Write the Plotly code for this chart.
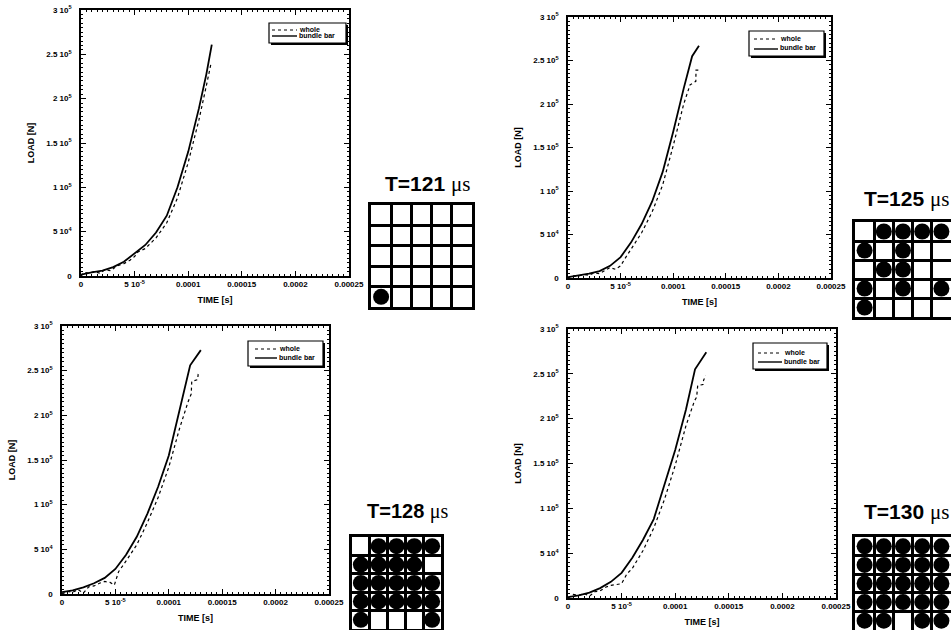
import plotly.graph_objects as go

# ---------------- data ----------------
x_tickvals = [0, 5e-5, 1e-4, 1.5e-4, 2e-4, 2.5e-4]
x_ticktext = ["0", "5 10<sup>-5</sup>", "0.0001", "0.00015", "0.0002", "0.00025"]
y_tickvals = [0, 5e4, 1e5, 1.5e5, 2e5, 2.5e5, 3e5]
y_ticktext = ["0", "5 10<sup>4</sup>", "1 10<sup>5</sup>", "1.5 10<sup>5</sup>",
              "2 10<sup>5</sup>", "2.5 10<sup>5</sup>", "3 10<sup>5</sup>"]
series_names = ["whole", "bundle bar"]
snapshot_labels = ["T=121", "T=125", "T=128", "T=130"]

# T=121 us
t121_bundle = [0, 0.5e-5, 1e-5, 2e-5, 3e-5, 4e-5, 5e-5, 6e-5, 7e-5, 8e-5, 9e-5, 1e-4, 1.1e-4, 1.17e-4, 1.22e-4]
l121_bundle = [1.5e3, 3e3, 4e3, 6e3, 10e3, 16e3, 25e3, 35e3, 49e3, 68e3, 100e3, 140e3, 189e3, 228e3, 261e3]
t121_whole = [0, 0.3e-5, 0.8e-5, 1.2e-5, 1.8e-5, 2.2e-5, 2.8e-5, 3.3e-5, 4e-5, 4.6e-5, 5e-5, 5.3e-5,
              6e-5, 7e-5, 8e-5, 9e-5, 1e-4, 1.1e-4, 1.17e-4, 1.21e-4]
l121_whole = [0, 4e3, 3e3, 5e3, 3e3, 7e3, 6e3, 11e3, 14e3, 18e3, 22e3, 27e3,
              31e3, 43e3, 60e3, 88e3, 128e3, 176e3, 215e3, 238e3]

# T=125 us
t125_bundle = [0, 1e-5, 2e-5, 3e-5, 4e-5, 5e-5, 6e-5, 7e-5, 8e-5, 9e-5, 1e-4, 1.1e-4, 1.18e-4, 1.245e-4]
l125_bundle = [1e3, 3e3, 5e3, 8e3, 14e3, 24e3, 41e3, 62e3, 88e3, 122e3, 168e3, 218e3, 255e3, 267e3]
t125_whole = [0, 0.4e-5, 0.9e-5, 1.5e-5, 2e-5, 2.5e-5, 3e-5, 3.5e-5, 4e-5, 4.5e-5, 5e-5, 5.4e-5,
              6e-5, 7e-5, 8e-5, 9e-5, 1e-4, 1.1e-4, 1.16e-4, 1.215e-4, 1.217e-4, 1.245e-4]
l125_whole = [0, 3e3, 2e3, 4e3, 3e3, 6e3, 5e3, 9e3, 12e3, 10e3, 14e3, 22e3,
              33e3, 52e3, 76e3, 107e3, 152e3, 200e3, 222e3, 226e3, 239e3, 239e3]

# T=128 us
t128_bundle = [0, 1e-5, 2e-5, 3e-5, 4e-5, 5e-5, 6e-5, 7e-5, 8e-5, 9e-5, 1e-4, 1.1e-4, 1.2e-4, 1.3e-4]
l128_bundle = [2e3, 4e3, 7.5e3, 12e3, 18e3, 28e3, 44e3, 64e3, 90e3, 120e3, 155e3, 205e3, 256e3, 273e3]
t128_whole = [0, 0.5e-5, 1e-5, 1.5e-5, 2e-5, 2.5e-5, 3e-5, 3.5e-5, 4e-5, 4.5e-5, 4.9e-5, 5.3e-5,
              6e-5, 7e-5, 8e-5, 9e-5, 1e-4, 1.1e-4, 1.18e-4, 1.21e-4, 1.215e-4, 1.27e-4, 1.275e-4, 1.29e-4]
l128_whole = [0, 3e3, 2e3, 5e3, 1e3, 8e3, 9e3, 12e3, 14e3, 13e3, 10e3, 25e3,
              37e3, 55e3, 80e3, 108e3, 142e3, 185e3, 215e3, 224e3, 238e3, 240e3, 246e3, 248e3]

# T=130 us
t130_bundle = [0, 1e-5, 2e-5, 3e-5, 4e-5, 5e-5, 6e-5, 7e-5, 8e-5, 9e-5, 1e-4, 1.1e-4, 1.185e-4, 1.29e-4]
l130_bundle = [1e3, 3e3, 6e3, 11e3, 18e3, 28e3, 45e3, 65e3, 88e3, 126e3, 165e3, 210e3, 255e3, 274e3]
t130_whole = [0, 0.5e-5, 1e-5, 1.5e-5, 2e-5, 2.5e-5, 3e-5, 3.5e-5, 4e-5, 4.5e-5, 5e-5, 5.5e-5,
              6e-5, 7e-5, 8e-5, 9e-5, 1e-4, 1.1e-4, 1.18e-4, 1.2e-4, 1.21e-4, 1.26e-4, 1.265e-4, 1.285e-4]
l130_whole = [0, 4e3, 3e3, 5e3, 2e3, 7e3, 8e3, 12e3, 14e3, 15e3, 16e3, 27e3,
              33e3, 53e3, 78e3, 110e3, 148e3, 192e3, 220e3, 224e3, 237e3, 238e3, 243e3, 248e3]

# 5x5 bundle cross-sections (1 = broken bar marked by a filled circle), row 1 = top
grid121 = [[0, 0, 0, 0, 0], [0, 0, 0, 0, 0], [0, 0, 0, 0, 0], [0, 0, 0, 0, 0], [1, 0, 0, 0, 0]]
grid125 = [[0, 1, 1, 1, 1], [1, 0, 1, 0, 0], [0, 1, 1, 0, 0], [1, 0, 1, 0, 1], [1, 0, 0, 0, 0]]
grid128 = [[0, 1, 1, 1, 1], [1, 1, 1, 1, 0], [1, 1, 1, 1, 1], [1, 1, 1, 1, 1], [1, 0, 0, 0, 1]]
grid130 = [[1, 1, 1, 1, 1], [1, 1, 1, 1, 1], [1, 1, 1, 1, 1], [1, 1, 1, 1, 1], [1, 1, 0, 1, 1]]

# ---------------- layout config (pixels) ----------------
W, H = 951, 630
def px_x(a, b): return [a / W, b / W]
def px_y(top, bot): return [1 - bot / H, 1 - top / H]

panels = [
    dict(tb=t121_bundle, lb=l121_bundle, tw=t121_whole, lw=l121_whole, grid=grid121, label=snapshot_labels[0],
         pdx=(81, 349), pdy=(10, 276), gdx=(371, 472), gdy=(205, 307),
         legbox=(269, 23, 346, 43), legline=(272, 297), legrows=(29, 35), tpos=(427, 184), tsize=21),
    dict(tb=t125_bundle, lb=l125_bundle, tw=t125_whole, lw=l125_whole, grid=grid125, label=snapshot_labels[1],
         pdx=(568, 831), pdy=(17, 278), gdx=(855, 951), gdy=(222, 317),
         legbox=(749, 31, 824, 56), legline=(754, 778), legrows=(38, 48), tpos=(906, 199), tsize=21),
    dict(tb=t128_bundle, lb=l128_bundle, tw=t128_whole, lw=l128_whole, grid=grid128, label=snapshot_labels[2],
         pdx=(62, 329), pdy=(326, 594), gdx=(352, 441), gdy=(537, 629),
         legbox=(248, 341, 323, 366), legline=(255, 277), legrows=(348, 357), tpos=(408, 511), tsize=20),
    dict(tb=t130_bundle, lb=l130_bundle, tw=t130_whole, lw=l130_whole, grid=grid130, label=snapshot_labels[3],
         pdx=(568, 836), pdy=(329, 598), gdx=(855, 951), gdy=(537, 630),
         legbox=(753, 343, 827, 369), legline=(758, 782), legrows=(352, 361), tpos=(906, 512), tsize=21),
]

FONT = "Liberation Sans"
fig = go.Figure()
# figure size comes from the 951x630 page div (pinned to the page corner, see write_html below)
layout = dict(template="none",
              margin=dict(l=0, r=0, t=0, b=0, pad=0),
              paper_bgcolor="white", plot_bgcolor="white", showlegend=False,
              font=dict(family=FONT, color="black"))
annotations = []
shapes = []

def fx(v): return v / W
def fy(v): return 1 - v / H

for i, p in enumerate(panels):
    n = i + 1
    g = i + 5
    sfx = "" if n == 1 else str(n)
    xa, ya = f"x{sfx}", f"y{sfx}"
    fig.add_trace(go.Scatter(x=p["tw"], y=p["lw"], mode="lines", name=series_names[0],
                             line=dict(color="black", width=1.2, dash="dot"),
                             xaxis=xa, yaxis=ya))
    fig.add_trace(go.Scatter(x=p["tb"], y=p["lb"], mode="lines", name=series_names[1],
                             line=dict(color="black", width=1.8),
                             xaxis=xa, yaxis=ya))
    tick_font = dict(size=8, family=FONT, weight="bold")
    common = dict(showline=True, linewidth=1.5, linecolor="black", mirror="allticks",
                  ticks="inside", ticklen=5, tickwidth=1, tickcolor="black", automargin=False,
                  showgrid=False, zeroline=False, tickfont=tick_font, tickmode="array")
    layout[f"xaxis{sfx}"] = dict(domain=px_x(*p["pdx"]), range=[0, 2.5e-4], anchor=ya,
                                 tickvals=x_tickvals, ticktext=x_ticktext,
                                 minor=dict(tickmode="linear", tick0=0, dtick=5e-6, ticks="inside",
                                            ticklen=2.5, tickcolor="black", showgrid=False),
                                 title=dict(text="<b>TIME [s]</b>", font=dict(size=9, family=FONT), standoff=8),
                                 **common)
    layout[f"yaxis{sfx}"] = dict(domain=px_y(*p["pdy"]), range=[0, 3e5], anchor=xa,
                                 tickvals=y_tickvals, ticktext=y_ticktext,
                                 minor=dict(tickmode="linear", tick0=0, dtick=5e3, ticks="inside",
                                            ticklen=2.5, tickcolor="black", showgrid=False),
                                 title=dict(text="<b>LOAD [N]</b>", font=dict(size=9, family=FONT), standoff=10),
                                 ticklabelstandoff=6, **common)

    # legend box (with drop shadow), built from the series names
    L, T, R, B = p["legbox"]
    shapes.append(dict(type="rect", xref="paper", yref="paper", x0=fx(L + 2), x1=fx(R + 2),
                       y0=fy(B + 2), y1=fy(T + 2), fillcolor="black", line=dict(width=0)))
    shapes.append(dict(type="rect", xref="paper", yref="paper", x0=fx(L), x1=fx(R),
                       y0=fy(B), y1=fy(T), fillcolor="white", line=dict(color="black", width=1.2)))
    lx0, lx1 = p["legline"]
    for k, (nm, dash, wdt) in enumerate(zip(series_names, ["dot", "solid"], [1.0, 1.4])):
        yy = p["legrows"][k]
        shapes.append(dict(type="line", xref="paper", yref="paper", x0=fx(lx0), x1=fx(lx1),
                           y0=fy(yy + 1), y1=fy(yy + 1), line=dict(color="black", width=wdt, dash=dash)))
        annotations.append(dict(text=nm, x=fx(lx1), y=fy(yy), xref="paper", yref="paper",
                                showarrow=False, xanchor="left", yanchor="middle",
                                font=dict(size=7, family=FONT, weight="bold", color="black")))

    # grid of bars
    xs, ys = [], []
    for r, row in enumerate(p["grid"]):
        for c, v in enumerate(row):
            if v:
                xs.append(c + 1)
                ys.append(r + 1)
    fig.add_trace(go.Scatter(x=xs, y=ys, mode="markers", showlegend=False,
                             marker=dict(symbol="circle", size=16, color="black"),
                             xaxis=f"x{g}", yaxis=f"y{g}", cliponaxis=False))
    gcommon = dict(showgrid=True, gridcolor="black", gridwidth=3, showticklabels=False, ticks="",
                   showline=True, linewidth=3, linecolor="black", mirror=True, zeroline=False,
                   automargin=False, tickmode="array", tickvals=[1.5, 2.5, 3.5, 4.5], fixedrange=True)
    layout[f"xaxis{g}"] = dict(domain=px_x(*p["gdx"]), range=[0.5, 5.5], anchor=f"y{g}", **gcommon)
    layout[f"yaxis{g}"] = dict(domain=px_y(*p["gdy"]), range=[5.5, 0.5], anchor=f"x{g}", **gcommon)

    annotations.append(dict(
        text=f"<b>{p['label']}</b> <span style='font-family:Liberation Serif'>μs</span>",
        x=p["tpos"][0] / W, y=1 - p["tpos"][1] / H, xref="paper", yref="paper",
        showarrow=False, xanchor="center", yanchor="middle",
        font=dict(size=p["tsize"], family=FONT, color="black")))

layout["annotations"] = annotations
layout["shapes"] = shapes
fig.update_layout(**layout)
# the plot div is pinned to the page corner so the default body margin cannot shift it
fig.write_html("out.html", config={"displayModeBar": False, "responsive": False},
               default_width=f"{W}px",
               default_height=f"{H}px; position:absolute; left:0px; top:0px")
